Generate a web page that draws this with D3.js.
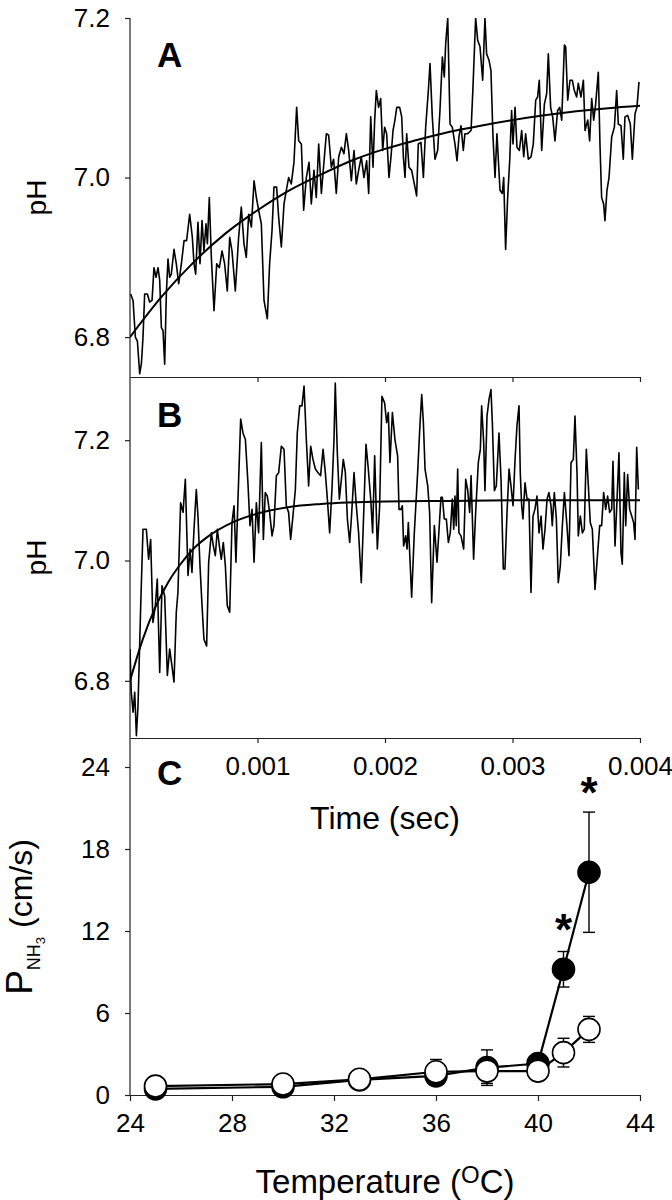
<!DOCTYPE html>
<html><head><meta charset="utf-8">
<script src="https://cdn.jsdelivr.net/npm/d3@7"></script>
<style>
body{margin:0;background:#fff}
svg{display:block}
text{font-family:"Liberation Sans",Arial,sans-serif;fill:#000}
</style>
</head><body><svg id="c" width="672" height="1200"></svg>
<script>
// ---------- DATA ----------
// Panel A: time (ms) , pH
const traceA = [[0.005,6.854],[0.024,6.846],[0.042,6.800],[0.058,6.795],[0.076,6.754],[0.089,6.766],[0.102,6.800],[0.115,6.854],[0.136,6.854],[0.154,6.844],[0.173,6.846],[0.188,6.887],[0.204,6.875],[0.220,6.887],[0.233,6.871],[0.246,6.812],[0.259,6.808],[0.272,6.766],[0.285,6.854],[0.298,6.898],[0.311,6.875],[0.324,6.879],[0.345,6.910],[0.363,6.892],[0.382,6.867],[0.403,6.892],[0.424,6.921],[0.444,6.921],[0.468,6.954],[0.489,6.925],[0.502,6.892],[0.515,6.879],[0.533,6.944],[0.549,6.892],[0.565,6.946],[0.580,6.908],[0.596,6.942],[0.607,6.917],[0.622,6.975],[0.638,6.900],[0.659,6.833],[0.680,6.892],[0.701,6.887],[0.722,6.908],[0.742,6.892],[0.763,6.858],[0.782,6.925],[0.800,6.908],[0.826,6.858],[0.852,6.925],[0.873,6.963],[0.894,6.917],[0.912,6.900],[0.931,6.954],[0.952,6.938],[0.973,6.996],[0.991,6.975],[1.009,6.959],[1.030,6.942],[1.051,6.846],[1.077,6.823],[1.095,6.892],[1.114,6.934],[1.129,6.988],[1.150,6.988],[1.166,6.950],[1.187,6.913],[1.208,6.967],[1.226,6.984],[1.244,7.000],[1.265,6.992],[1.286,7.019],[1.307,7.088],[1.323,7.046],[1.344,7.042],[1.362,6.959],[1.383,7.000],[1.404,7.019],[1.422,6.967],[1.443,7.009],[1.461,6.975],[1.480,7.042],[1.501,6.980],[1.522,7.021],[1.540,7.055],[1.558,7.053],[1.579,7.013],[1.597,7.023],[1.618,6.980],[1.637,7.026],[1.658,7.038],[1.678,7.030],[1.697,7.055],[1.715,7.034],[1.736,6.996],[1.757,7.034],[1.775,6.992],[1.793,7.009],[1.814,7.026],[1.835,7.000],[1.856,7.021],[1.872,6.980],[1.888,7.076],[1.906,7.013],[1.919,7.072],[1.932,7.109],[1.950,7.088],[1.966,7.099],[1.982,7.034],[1.997,7.063],
[2.013,7.055],[2.031,7.000],[2.047,7.026],[2.063,7.059],[2.078,7.072],[2.092,7.088],[2.115,7.088],[2.131,7.076],[2.144,7.026],[2.157,7.000],[2.170,7.055],[2.188,7.013],[2.209,7.009],[2.230,6.992],[2.248,6.977],[2.261,7.042],[2.282,7.044],[2.301,7.000],[2.319,7.063],[2.340,7.109],[2.353,7.143],[2.371,7.076],[2.392,7.023],[2.413,7.034],[2.431,7.084],[2.450,7.151],[2.465,7.126],[2.476,7.168],[2.492,7.200],[2.510,7.067],[2.528,7.063],[2.549,7.042],[2.565,7.021],[2.580,7.051],[2.596,7.065],[2.614,7.034],[2.627,7.055],[2.648,7.055],[2.675,7.059],[2.690,7.113],[2.711,7.200],[2.727,7.172],[2.745,7.164],[2.766,7.122],[2.784,7.200],[2.797,7.155],[2.816,7.147],[2.831,7.134],[2.847,7.051],[2.863,7.000],[2.878,7.055],[2.902,6.984],[2.920,6.980],[2.931,7.000],[2.946,6.910],[2.962,6.975],[2.978,7.021],[2.993,7.084],[3.004,7.042],[3.020,7.088],[3.035,7.038],[3.054,7.034],[3.072,7.059],[3.088,7.026],[3.103,7.055],[3.124,7.023],[3.145,7.026],[3.163,7.042],[3.182,7.097],[3.197,7.101],[3.210,7.122],[3.229,7.034],[3.250,7.092],[3.268,7.105],[3.281,7.155],[3.299,7.088],[3.315,7.076],[3.333,7.046],[3.354,7.084],[3.370,7.088],[3.386,7.072],[3.407,7.166],[3.417,7.164],[3.433,7.097],[3.451,7.122],[3.469,7.122],[3.485,7.109],[3.503,7.101],[3.516,7.118],[3.537,7.101],[3.556,7.122],[3.569,7.059],[3.590,7.072],[3.605,7.046],[3.621,7.099],[3.637,7.072],[3.652,7.092],[3.673,7.132],[3.686,7.042],[3.699,6.975],[3.715,6.967],[3.725,6.946],[3.741,6.984],[3.757,7.000],[3.778,7.051],[3.799,7.063],[3.817,7.109],[3.830,7.067],[3.851,7.065],[3.869,7.023],[3.882,7.076],[3.903,7.078],[3.924,7.067],[3.940,7.023],[3.961,7.080],[3.976,7.088],[3.992,7.120]];
const fitA = [[0,6.800],[0.25,6.851],[0.5,6.894],[0.75,6.930],[1.0,6.959],[1.25,6.984],[1.5,7.004],[1.75,7.022],[2.0,7.036],[2.25,7.047],[2.5,7.057],[2.75,7.065],[3.0,7.072],[3.25,7.078],[3.5,7.083],[3.75,7.087],[4.0,7.090]];

// Panel B: time (ms) , pH
const traceB = [[0.000,6.853],[0.010,6.781],[0.024,6.748],[0.037,6.781],[0.050,6.709],[0.063,6.759],[0.084,6.925],[0.102,7.052],[0.128,7.052],[0.146,7.002],[0.162,7.035],[0.180,6.897],[0.199,6.925],[0.214,6.969],[0.233,6.814],[0.251,6.958],[0.272,6.941],[0.293,6.809],[0.311,6.853],[0.329,6.825],[0.345,6.798],[0.363,6.914],[0.376,6.947],[0.397,7.096],[0.416,7.080],[0.434,7.135],[0.455,6.975],[0.471,7.019],[0.486,6.980],[0.502,7.052],[0.520,7.118],[0.533,7.074],[0.549,6.991],[0.565,6.925],[0.580,6.869],[0.601,6.858],[0.617,6.997],[0.638,7.046],[0.654,7.024],[0.669,7.008],[0.685,7.052],[0.701,7.024],[0.716,7.002],[0.732,7.030],[0.748,6.991],[0.763,6.925],[0.782,6.914],[0.800,7.063],[0.816,7.091],[0.831,6.997],[0.847,7.102],[0.868,7.235],[0.886,7.212],[0.905,7.201],[0.925,7.129],[0.941,7.058],[0.957,7.085],[0.973,6.997],[0.991,7.096],[1.009,7.046],[1.030,7.196],[1.046,7.035],[1.061,7.113],[1.077,7.107],[1.095,7.080],[1.114,7.041],[1.129,7.058],[1.148,7.141],[1.166,7.146],[1.187,7.190],[1.208,7.185],[1.226,7.091],[1.244,7.080],[1.260,7.035],[1.278,7.074],[1.297,7.118],[1.312,7.212],[1.331,7.257],[1.349,7.257],[1.365,7.290],[1.383,7.201],[1.401,7.124],[1.417,7.190],[1.435,7.168],[1.454,7.152],[1.475,7.146],[1.495,7.141],[1.514,7.185],[1.532,7.146],[1.548,7.102],[1.566,7.046],[1.584,7.118],[1.600,7.201],[1.610,7.295],[1.626,7.179],[1.642,7.102],[1.658,7.135],[1.673,7.168],[1.689,7.146],[1.705,7.069],[1.723,7.030],[1.736,7.069],[1.757,7.146],[1.775,7.091],[1.793,7.046],[1.814,6.963],[1.835,7.091],[1.851,7.193],[1.867,7.157],[1.888,7.102],[1.903,7.046],[1.919,7.174],[1.940,7.019],[1.958,7.091],[1.976,7.273],[1.997,7.262],
[2.013,7.229],[2.026,7.246],[2.039,7.163],[2.058,7.246],[2.078,7.201],[2.099,7.174],[2.110,7.085],[2.125,7.085],[2.136,7.091],[2.146,7.024],[2.162,7.041],[2.173,7.019],[2.183,7.063],[2.209,6.939],[2.230,7.046],[2.256,7.146],[2.275,7.229],[2.288,7.276],[2.301,7.229],[2.314,7.152],[2.335,7.124],[2.350,7.080],[2.366,6.930],[2.387,7.058],[2.408,6.997],[2.424,7.052],[2.439,7.105],[2.450,7.105],[2.465,7.069],[2.481,7.069],[2.497,7.030],[2.512,7.046],[2.528,7.102],[2.539,7.052],[2.549,7.107],[2.559,7.058],[2.570,7.152],[2.580,7.046],[2.596,7.041],[2.617,7.019],[2.633,7.135],[2.648,7.118],[2.664,7.080],[2.675,7.141],[2.695,7.002],[2.711,7.080],[2.732,7.163],[2.748,7.185],[2.758,7.257],[2.774,7.196],[2.784,7.116],[2.800,7.240],[2.816,7.268],[2.831,7.284],[2.842,7.229],[2.858,7.116],[2.873,7.124],[2.894,7.212],[2.910,7.135],[2.928,6.986],[2.941,6.986],[2.957,7.080],[2.973,7.152],[2.988,7.124],[3.004,7.091],[3.020,7.168],[3.035,7.224],[3.051,7.257],[3.061,7.146],[3.072,7.091],[3.082,7.069],[3.098,7.129],[3.114,7.102],[3.129,7.102],[3.145,6.947],[3.161,7.074],[3.176,7.085],[3.192,7.107],[3.208,7.046],[3.224,7.074],[3.239,7.019],[3.255,7.052],[3.271,7.102],[3.286,7.113],[3.302,7.091],[3.312,7.058],[3.328,7.113],[3.344,7.069],[3.359,6.963],[3.375,6.991],[3.391,7.058],[3.407,7.113],[3.427,7.058],[3.443,7.008],[3.459,7.163],[3.477,7.168],[3.490,7.240],[3.506,7.146],[3.516,7.041],[3.532,7.074],[3.548,7.046],[3.563,7.052],[3.579,7.185],[3.595,7.124],[3.610,7.063],[3.626,7.052],[3.647,6.952],[3.668,7.013],[3.684,7.058],[3.699,7.058],[3.715,7.113],[3.731,7.085],[3.746,7.107],[3.762,7.080],[3.778,7.085],[3.788,7.165],[3.804,7.024],[3.820,7.102],[3.835,7.179],[3.851,7.013],[3.861,6.994],[3.877,7.146],[3.888,7.058],[3.903,7.143],[3.919,7.085],[3.935,7.074],[3.950,7.063],[3.961,7.035],[3.974,7.188],[3.987,7.118]];
const fitB = [[0,6.800],[0.1,6.869],[0.2,6.923],[0.3,6.964],[0.4,6.995],[0.5,7.020],[0.6,7.038],[0.8,7.063],[1.0,7.078],[1.25,7.089],[1.5,7.094],[2.0,7.098],[2.5,7.099],[3.0,7.100],[3.5,7.100],[4.0,7.100]];

const timeTicks = [1, 2, 3, 4];
const timeTickLabels = ["0.001", "0.002", "0.003", "0.004"];
const pHTicks = [6.8, 7.0, 7.2];

// Panel C
const tempC = [25, 30, 33, 36, 38, 40, 41, 42];
const closedC = [0.45, 0.6, 1.1, 1.4, 2.0, 2.3, 9.2, 16.3];
const closedErr = [0.2, 0.2, 0.3, 0.4, 1.3, 0.5, 1.3, 4.4];
const openC = [0.65, 0.8, 1.15, 1.7, 1.75, 1.75, 3.1, 4.8];
const openErr = [0.1, 0.1, 0.2, 0.9, 0.9, 0.7, 1.05, 0.95];
const tempTicks = [24, 28, 32, 36, 40, 44];
const permTicks = [0, 6, 12, 18, 24];
const starT = [41, 42];
const starV = [12.8, 22.8];

// ---------- DRAW ----------
const svg = d3.select("#c");
const FONT = 26;
const x = d3.scaleLinear().domain([0, 4]).range([130, 640]);
const yA = d3.scaleLinear().domain([6.75, 7.2]).range([377, 18]);
const yB = d3.scaleLinear().domain([6.705, 7.305]).range([738, 377]);
const xC = d3.scaleLinear().domain([24, 44]).range([130, 640]);
const yC = d3.scaleLinear().domain([0, 24]).range([1095, 767]);

function styleAxis(g, showDomain) {
  g.selectAll("text").style("font-size", FONT + "px").attr("fill", "#000");
  g.selectAll("line").attr("stroke", "#222").attr("stroke-width", 1.2);
  if (showDomain) g.select(".domain").attr("stroke", "#222").attr("stroke-width", 1.2);
  else g.select(".domain").remove();
}

// continuous left axis line
svg.append("line").attr("x1", x(0)).attr("x2", x(0))
  .attr("y1", yA.range()[1]).attr("y2", yC.range()[0])
  .attr("stroke", "#222").attr("stroke-width", 1.2);

// Panel A axes
svg.append("g").attr("transform", `translate(${x(0)},0)`)
  .call(d3.axisLeft(yA).tickValues(pHTicks).tickFormat(d3.format(".1f")).tickSize(5).tickPadding(15).tickSizeOuter(0))
  .call(g => styleAxis(g, false));
svg.append("g").attr("transform", `translate(0,${yA.range()[0]})`)
  .call(d3.axisBottom(x).tickValues(timeTicks).tickFormat("").tickSize(5).tickSizeOuter(0))
  .call(g => styleAxis(g, true));

// Panel B axes
svg.append("g").attr("transform", `translate(${x(0)},0)`)
  .call(d3.axisLeft(yB).tickValues(pHTicks).tickFormat(d3.format(".1f")).tickSize(5).tickPadding(15).tickSizeOuter(0))
  .call(g => styleAxis(g, false));
svg.append("g").attr("transform", `translate(0,${yB.range()[0]})`)
  .call(d3.axisBottom(x).tickValues(timeTicks).tickFormat((d, i) => timeTickLabels[i]).tickSize(5).tickPadding(14).tickSizeOuter(0))
  .call(g => styleAxis(g, true));

// Panel C axes
svg.append("g").attr("transform", `translate(${xC(24)},0)`)
  .call(d3.axisLeft(yC).tickValues(permTicks).tickFormat(d3.format("d")).tickSize(5).tickPadding(15).tickSizeOuter(0))
  .call(g => styleAxis(g, false));
svg.append("g").attr("transform", `translate(0,${yC(0)})`)
  .call(d3.axisBottom(xC).tickValues(tempTicks).tickFormat(d3.format("d")).tickSize(6).tickPadding(13).tickSizeOuter(0))
  .call(g => styleAxis(g, true));

// clip paths
const defs = svg.append("defs");
defs.append("clipPath").attr("id", "clipA").append("rect")
  .attr("x", x(0)).attr("y", yA.range()[1]).attr("width", x(4) - x(0)).attr("height", yA.range()[0] - yA.range()[1]);
defs.append("clipPath").attr("id", "clipB").append("rect")
  .attr("x", x(0)).attr("y", yB.range()[1]).attr("width", x(4) - x(0)).attr("height", yB.range()[0] - yB.range()[1]);

function drawPanel(trace, fit, y, clip) {
  const line = d3.line().x(d => x(d[0])).y(d => y(d[1]));
  const g = svg.append("g").attr("clip-path", `url(#${clip})`);
  g.append("path").datum(trace).attr("d", line)
    .attr("fill", "none").attr("stroke", "#000").attr("stroke-width", 1.6).attr("stroke-linejoin", "round");
  g.append("path").datum(fit).attr("d", line.curve(d3.curveMonotoneX))
    .attr("fill", "none").attr("stroke", "#000").attr("stroke-width", 2);
}
drawPanel(traceA, fitA, yA, "clipA");
drawPanel(traceB, fitB, yB, "clipB");

// Panel C series
function drawSeries(vals, errs, fill) {
  const pts = tempC.map((t, i) => ({ t, v: vals[i], e: errs[i] }));
  const g = svg.append("g");
  g.selectAll("line.eb").data(pts).join("line").attr("class", "eb")
    .attr("x1", d => xC(d.t)).attr("x2", d => xC(d.t))
    .attr("y1", d => yC(d.v - d.e)).attr("y2", d => yC(d.v + d.e))
    .attr("stroke", "#000").attr("stroke-width", 1.4);
  ["-", "+"].forEach(s => {
    g.selectAll("line.cap" + (s === "-" ? "m" : "p")).data(pts).join("line")
      .attr("class", "cap" + (s === "-" ? "m" : "p"))
      .attr("x1", d => xC(d.t) - 6).attr("x2", d => xC(d.t) + 6)
      .attr("y1", d => yC(s === "-" ? d.v - d.e : d.v + d.e))
      .attr("y2", d => yC(s === "-" ? d.v - d.e : d.v + d.e))
      .attr("stroke", "#000").attr("stroke-width", 1.4);
  });
  g.append("path").datum(pts)
    .attr("d", d3.line().x(d => xC(d.t)).y(d => yC(d.v)))
    .attr("fill", "none").attr("stroke", "#000").attr("stroke-width", 2.2);
  g.selectAll("circle").data(pts).join("circle")
    .attr("cx", d => xC(d.t)).attr("cy", d => yC(d.v)).attr("r", 11)
    .attr("fill", fill).attr("stroke", "#000").attr("stroke-width", 1.6);
}
drawSeries(closedC, closedErr, "#000");
drawSeries(openC, openErr, "#fff");

// asterisks
svg.selectAll("text.star").data(starT).join("text").attr("class", "star")
  .attr("x", d => xC(d)).attr("y", (d, i) => yC(starV[i]) + 25)
  .attr("text-anchor", "middle").style("font-size", "44px").style("font-weight", "bold").text("*");

// panel letters
[["A", yA.range()[1] + 49], ["B", yB.range()[1] + 50], ["C", yC.range()[1] + 18]].forEach(([t, yy]) => {
  svg.append("text").attr("x", x(0) + 27).attr("y", yy)
    .style("font-size", "35px").style("font-weight", "bold").text(t);
});

// axis titles
[yA, yB].forEach(y => {
  const cy = (y.range()[0] + y.range()[1]) / 2;
  svg.append("text").attr("transform", `translate(46,${cy}) rotate(-90)`)
    .attr("text-anchor", "middle").style("font-size", "28px").text("pH");
});
svg.append("text").attr("x", (x(0) + x(4)) / 2).attr("y", 829)
  .attr("text-anchor", "middle").style("font-size", "32px").text("Time (sec)");

const tt = svg.append("text").attr("x", (xC(24) + xC(44)) / 2).attr("y", 1193)
  .attr("text-anchor", "middle").style("font-size", "33px");
tt.append("tspan").text("Temperature (");
tt.append("tspan").attr("dy", -10).style("font-size", "24px").text("O");
tt.append("tspan").attr("dy", 10).text("C)");

const pl = svg.append("text").attr("transform", `translate(32,917) rotate(-90)`)
  .attr("text-anchor", "middle").style("font-size", "32px");
pl.append("tspan").style("font-size", "37px").text("P");
pl.append("tspan").attr("dy", 8).style("font-size", "18px").text("NH");
pl.append("tspan").attr("dy", 5).style("font-size", "13px").text("3");
pl.append("tspan").attr("dy", -13).text(" (cm/s)");
</script>
</body></html>
